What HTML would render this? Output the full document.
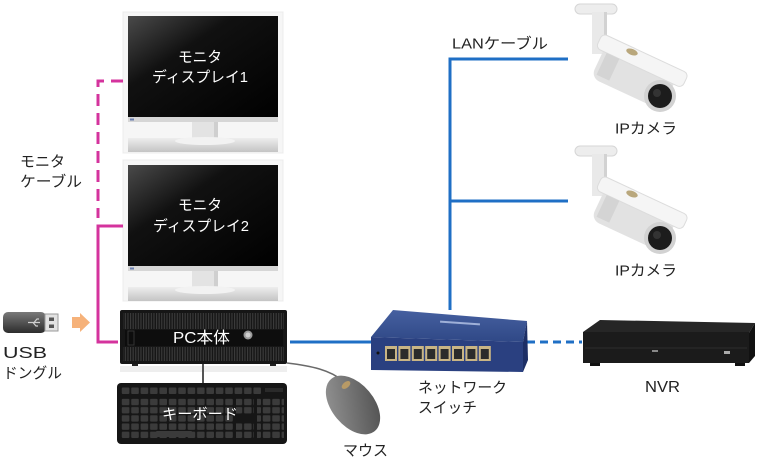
<!DOCTYPE html>
<html><head><meta charset="utf-8"><style>
html,body{margin:0;padding:0;background:#fff;}
svg{display:block;}
text{font-family:"Liberation Sans","Noto Sans CJK JP",sans-serif;}
</style></head><body>
<svg width="760" height="460" viewBox="0 0 760 460" xmlns="http://www.w3.org/2000/svg">
<defs>
<linearGradient id="scr" x1="0" y1="0" x2="1" y2="1">
<stop offset="0" stop-color="#4a4a4a"/><stop offset="0.35" stop-color="#111"/><stop offset="1" stop-color="#000"/>
</linearGradient>
<linearGradient id="base" x1="0" y1="0" x2="0" y2="1">
<stop offset="0" stop-color="#ededed"/><stop offset="1" stop-color="#c4c4c4"/>
</linearGradient>
<linearGradient id="usb" x1="0" y1="0" x2="0" y2="1">
<stop offset="0" stop-color="#7a7a7a"/><stop offset="1" stop-color="#2c2c2c"/>
</linearGradient>
<linearGradient id="mouse" x1="0" y1="0" x2="1" y2="1">
<stop offset="0" stop-color="#9a9a9a"/><stop offset="1" stop-color="#4a4a4a"/>
</linearGradient>
<linearGradient id="swtop" x1="0" y1="0" x2="0" y2="1">
<stop offset="0" stop-color="#4660a0"/><stop offset="1" stop-color="#2f4886"/>
</linearGradient>
<pattern id="stripes" width="2.6" height="10" patternUnits="userSpaceOnUse">
<rect x="0" y="0" width="1.1" height="10" fill="#3c3c3c"/>
</pattern>
<pattern id="keys" width="9.4" height="8.2" patternUnits="userSpaceOnUse" x="121" y="398">
<rect x="0.8" y="0.8" width="7.6" height="6.4" rx="1" fill="#3b3b3b"/>
</pattern>
<pattern id="fkeys" width="9.4" height="9" patternUnits="userSpaceOnUse" x="121" y="387">
<rect x="0.8" y="0.5" width="7.6" height="6.5" rx="1" fill="#3b3b3b"/>
</pattern>
</defs>

<!-- Monitor 1 -->
<g>
<rect x="123" y="12" width="160" height="141" fill="#f6f6f6" stroke="#ececec"/>
<rect x="128" y="16" width="150" height="101" fill="url(#scr)"/>
<rect x="128" y="117" width="150" height="5" fill="#d6d6d6"/>
<rect x="130" y="118.5" width="4" height="2" fill="#6a7fb0"/>
<rect x="192" y="122" width="26" height="20" fill="#e3e3e3"/>
<rect x="214" y="122" width="4" height="20" fill="#cfcfcf"/>
<rect x="128" y="138" width="150" height="14" fill="url(#base)"/>
<ellipse cx="205" cy="141" rx="30" ry="4" fill="#f2f2f2"/>
</g>
<!-- Monitor 2 -->
<g transform="translate(0,149)">
<rect x="123" y="11" width="160" height="141" fill="#f6f6f6" stroke="#ececec"/>
<rect x="128" y="16" width="150" height="101" fill="url(#scr)"/>
<rect x="128" y="117" width="150" height="5" fill="#d6d6d6"/>
<rect x="130" y="118.5" width="4" height="2" fill="#6a7fb0"/>
<rect x="192" y="122" width="26" height="20" fill="#e3e3e3"/>
<rect x="214" y="122" width="4" height="20" fill="#cfcfcf"/>
<rect x="128" y="138" width="150" height="14" fill="url(#base)"/>
<ellipse cx="205" cy="141" rx="30" ry="4" fill="#f2f2f2"/>
</g>

<text x="178" y="62" font-size="15" fill="#fff" textLength="44" lengthAdjust="spacingAndGlyphs">モニタ</text>
<text x="152" y="82" font-size="15" fill="#fff" textLength="96" lengthAdjust="spacingAndGlyphs">ディスプレイ1</text>
<text x="178" y="210" font-size="15" fill="#fff" textLength="44" lengthAdjust="spacingAndGlyphs">モニタ</text>
<text x="153" y="231" font-size="15" fill="#fff" textLength="96" lengthAdjust="spacingAndGlyphs">ディスプレイ2</text>

<!-- Pink monitor cables -->
<path d="M123,81 H98 V218" fill="none" stroke="#d4339d" stroke-width="3" stroke-dasharray="12 7"/>
<path d="M123,226 H98 V342 H118" fill="none" stroke="#d4339d" stroke-width="3"/>
<text x="20" y="166.5" font-size="15" fill="#222" textLength="45" lengthAdjust="spacingAndGlyphs">モニタ</text>
<text x="20" y="186.5" font-size="15" fill="#222" textLength="62" lengthAdjust="spacingAndGlyphs">ケーブル</text>

<!-- USB dongle -->
<rect x="3" y="312" width="43" height="21" rx="5" fill="url(#usb)"/>
<rect x="45" y="314" width="13" height="17" fill="#e2e2e2" stroke="#9a9a9a" stroke-width="1"/>
<rect x="49" y="317.5" width="5" height="3.5" fill="#555"/>
<rect x="49" y="324.5" width="5" height="3.5" fill="#555"/>
<path d="M28,322.5 H40 M34,322.5 L37,319 H39 M33,322.5 L36,326 H38" stroke="#cfcfcf" stroke-width="1.2" fill="none"/>
<polygon points="72,317 80,317 80,313 90,322.5 80,332 80,328 72,328" fill="#f6b27a"/>
<text x="3" y="358" font-size="16" fill="#222" textLength="44" lengthAdjust="spacingAndGlyphs">USB</text>
<text x="3" y="378" font-size="15" fill="#222" textLength="59" lengthAdjust="spacingAndGlyphs">ドングル</text>

<!-- PC -->
<rect x="120" y="366" width="167" height="6" fill="#eeeeee"/>
<rect x="120" y="310" width="167" height="54" rx="2" fill="#161616"/>
<rect x="123" y="313" width="161" height="16" fill="url(#stripes)"/>
<rect x="123" y="347" width="161" height="14" fill="url(#stripes)"/>
<rect x="125" y="330" width="158" height="16" fill="#0d0d0d"/>
<rect x="128" y="331" width="6" height="14" fill="none" stroke="#333" stroke-width="1"/>
<circle cx="248" cy="335" r="4.5" fill="#9a9a9a"/>
<circle cx="248" cy="335" r="2.5" fill="#cfcfcf"/>
<rect x="132" y="364" width="6" height="2" fill="#222"/>
<rect x="270" y="364" width="6" height="2" fill="#222"/>
<text x="173" y="343" font-size="16" fill="#fff" textLength="57" lengthAdjust="spacingAndGlyphs">PC本体</text>

<!-- PC to keyboard -->
<line x1="203" y1="364" x2="203" y2="383" stroke="#555" stroke-width="2"/>
<!-- Keyboard -->
<rect x="117" y="383" width="170" height="61" rx="4" fill="#161616"/>
<rect x="121" y="387" width="141" height="8" fill="url(#fkeys)"/>
<rect x="121" y="398" width="112" height="41" fill="url(#keys)"/>
<rect x="236" y="398" width="18" height="16" fill="url(#keys)"/>
<rect x="236" y="422" width="18" height="17" fill="url(#keys)"/>
<rect x="257" y="398" width="27" height="41" fill="url(#keys)"/>
<rect x="156" y="431" width="36" height="6" rx="1" fill="#3b3b3b"/>
<rect x="265" y="388" width="18" height="4" fill="#2a2a2a"/>
<text x="162" y="419" font-size="15" fill="#fff" textLength="76" lengthAdjust="spacingAndGlyphs">キーボード</text>

<!-- Mouse -->
<path d="M287,363 C312,366 330,370 343,381" fill="none" stroke="#6a6a6a" stroke-width="1.5"/>
<ellipse cx="353" cy="405" rx="21" ry="34" transform="rotate(-40 353 405)" fill="url(#mouse)"/>
<ellipse cx="346" cy="385" rx="5" ry="3" transform="rotate(-40 346 385)" fill="#b89a66"/>
<text x="343" y="455.5" font-size="15" fill="#222" textLength="45" lengthAdjust="spacingAndGlyphs">マウス</text>

<!-- Blue LAN lines -->
<path d="M290,342 H372" stroke="#1f6fc5" stroke-width="3" fill="none"/>
<path d="M527,342 H582" stroke="#1f6fc5" stroke-width="3" fill="none" stroke-dasharray="8 5"/>
<path d="M568,59 H450 V310 M450,201 H568" stroke="#1f6fc5" stroke-width="3" fill="none"/>
<text x="452" y="48.5" font-size="15" fill="#222" textLength="96" lengthAdjust="spacingAndGlyphs">LANケーブル</text>

<!-- Switch -->
<polygon points="371,337 393,310 527,321 523,342" fill="url(#swtop)"/>
<polygon points="371,337 523,342 523,372 371,370" fill="#2a4080"/>
<polygon points="523,342 527,321 528,360 523,372" fill="#1d2f66"/>
<rect x="440" y="322" width="40" height="2" fill="#9fb0d8" transform="rotate(4 460 323)"/>
<g fill="#c9b585">
<rect x="385" y="346" width="12" height="15"/><rect x="398.4" y="346" width="12" height="15"/>
<rect x="411.8" y="346" width="12" height="15"/><rect x="425.2" y="346" width="12" height="15"/>
<rect x="438.6" y="346" width="12" height="15"/><rect x="452" y="346" width="12" height="15"/>
<rect x="465.4" y="346" width="12" height="15"/><rect x="478.8" y="346" width="12" height="15"/>
</g>
<g fill="#2b2b2b">
<rect x="387" y="349" width="8" height="10"/><rect x="400.4" y="349" width="8" height="10"/>
<rect x="413.8" y="349" width="8" height="10"/><rect x="427.2" y="349" width="8" height="10"/>
<rect x="440.6" y="349" width="8" height="10"/><rect x="454" y="349" width="8" height="10"/>
<rect x="467.4" y="349" width="8" height="10"/><rect x="480.8" y="349" width="8" height="10"/>
</g>
<circle cx="378" cy="353" r="1.5" fill="#111"/>
<text x="418" y="392.5" font-size="15" fill="#222" textLength="89" lengthAdjust="spacingAndGlyphs">ネットワーク</text>
<text x="418" y="412.5" font-size="15" fill="#222" textLength="59" lengthAdjust="spacingAndGlyphs">スイッチ</text>

<!-- NVR -->
<polygon points="583,332 600,320 755,323 749,333" fill="#262626"/>
<rect x="583" y="332" width="166" height="31" fill="#1b1b1b"/>
<polygon points="749,333 755,323 755,356 749,363" fill="#111"/>
<line x1="585" y1="348" x2="747" y2="348" stroke="#2c2c2c" stroke-width="1"/>
<rect x="652" y="350" width="6" height="2" fill="#888"/>
<rect x="724" y="351" width="6" height="3" fill="#aaa"/>
<rect x="590" y="363" width="10" height="3" fill="#111"/>
<rect x="735" y="363" width="10" height="3" fill="#111"/>
<text x="645" y="392" font-size="16" fill="#222" textLength="35" lengthAdjust="spacingAndGlyphs">NVR</text>

<!-- Camera 1 -->
<g id="cam">
<rect x="575" y="4" width="42" height="10" rx="5" fill="#ededed" stroke="#d6d6d6"/>
<rect x="592" y="12" width="15" height="42" fill="#e9e9e9"/>
<rect x="604" y="12" width="3" height="42" fill="#d2d2d2"/>
<g transform="rotate(25 635 75)">
<rect x="596" y="60" width="78" height="36" rx="9" fill="#e2e2e2"/>
<rect x="588" y="51" width="95" height="16" rx="5" fill="#f5f5f5" stroke="#dcdcdc"/>
<rect x="600" y="67" width="14" height="24" fill="#d4d4d4"/>
</g>
<ellipse cx="632" cy="52" rx="6" ry="3" fill="#b9a77c" transform="rotate(20 632 52)"/>
<circle cx="660" cy="96" r="16" fill="#d2d2d2"/>
<circle cx="660" cy="96" r="12" fill="#1c1c1c"/>
<circle cx="657" cy="93" r="4" fill="#333"/>
</g>
<g transform="translate(0,142)">
<rect x="575" y="4" width="42" height="10" rx="5" fill="#ededed" stroke="#d6d6d6"/>
<rect x="592" y="12" width="15" height="42" fill="#e9e9e9"/>
<rect x="604" y="12" width="3" height="42" fill="#d2d2d2"/>
<g transform="rotate(25 635 75)">
<rect x="596" y="60" width="78" height="36" rx="9" fill="#e2e2e2"/>
<rect x="588" y="51" width="95" height="16" rx="5" fill="#f5f5f5" stroke="#dcdcdc"/>
<rect x="600" y="67" width="14" height="24" fill="#d4d4d4"/>
</g>
<ellipse cx="632" cy="52" rx="6" ry="3" fill="#b9a77c" transform="rotate(20 632 52)"/>
<circle cx="660" cy="96" r="16" fill="#d2d2d2"/>
<circle cx="660" cy="96" r="12" fill="#1c1c1c"/>
<circle cx="657" cy="93" r="4" fill="#333"/>
</g>
<text x="615" y="133.5" font-size="15" fill="#222" textLength="62" lengthAdjust="spacingAndGlyphs">IPカメラ</text>
<text x="615" y="275.5" font-size="15" fill="#222" textLength="62" lengthAdjust="spacingAndGlyphs">IPカメラ</text>
</svg>
</body></html>
